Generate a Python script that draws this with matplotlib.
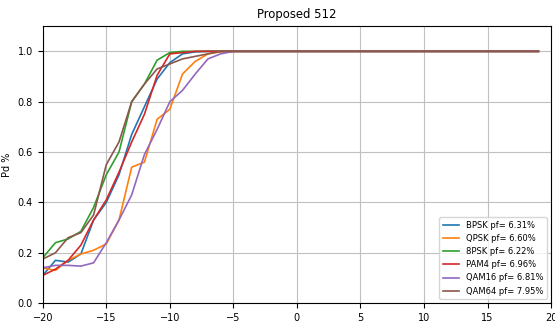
import numpy as np
import matplotlib
matplotlib.use('Agg')
import matplotlib.pyplot as plt

snr = np.arange(-20, 20, 1)
ones = [1.0] * 25  # -5 .. 19

bpsk = [0.11, 0.17, 0.163, 0.195, 0.33, 0.40, 0.51, 0.67, 0.78, 0.89, 0.955, 0.99, 0.998, 1.0, 1.0] + ones
qpsk = [0.14, 0.13, 0.17, 0.195, 0.21, 0.235, 0.33, 0.54, 0.56, 0.73, 0.77, 0.91, 0.96, 0.99, 0.998] + ones
psk8 = [0.18, 0.24, 0.255, 0.285, 0.38, 0.51, 0.60, 0.80, 0.87, 0.965, 0.995, 1.0, 1.0, 1.0, 1.0] + ones
pam4 = [0.11, 0.135, 0.17, 0.23, 0.33, 0.41, 0.52, 0.64, 0.75, 0.905, 0.99, 0.995, 1.0, 1.0, 1.0] + ones
qam16 = [0.14, 0.15, 0.15, 0.147, 0.16, 0.24, 0.33, 0.43, 0.59, 0.69, 0.80, 0.845, 0.91, 0.97, 0.99] + ones
qam64 = [0.175, 0.20, 0.26, 0.28, 0.35, 0.55, 0.64, 0.80, 0.87, 0.93, 0.95, 0.97, 0.98, 0.99, 1.0] + ones

labels = ['BPSK pf= 6.31%', 'QPSK pf= 6.60%', '8PSK pf= 6.22%',
          'PAM4 pf= 6.96%', 'QAM16 pf= 6.81%', 'QAM64 pf= 7.95%']
series = [bpsk, qpsk, psk8, pam4, qam16, qam64]

plt.rcParams['font.size'] = 7
fig, ax = plt.subplots(figsize=(5.55, 3.27), dpi=100)
fig.subplots_adjust(left=0.077, right=0.993, bottom=0.073, top=0.92)

for vals, lab in zip(series, labels):
    ax.plot(snr, vals, label=lab, linewidth=1.2)

ax.set_xlim(-20, 20)
ax.set_ylim(0, 1.1)
ax.grid(True, color='#c0c0c0')
ax.legend(loc='lower right', fontsize=6)
ax.set_xlabel('SNR db')
ax.set_ylabel('Pd %')
ax.set_title('Proposed 512')
fig.savefig('out.png')
